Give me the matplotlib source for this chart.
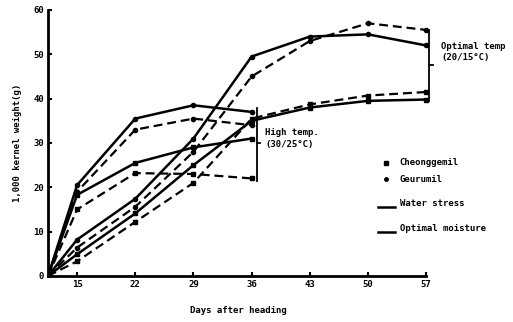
import matplotlib.pyplot as plt

days = [11.5, 15, 22, 29, 36, 43, 50, 57]
days_high = [11.5, 15, 22, 29, 36]

# optimal temp (20/15C)
opt_geu_ws = [0, 8.2, 17.4, 31, 49.5, 54, 54.5, 52]      # solid
opt_geu_om = [0, 6.4, 15.6, 28, 45, 53, 57, 55.5]        # dashed
opt_che_ws = [0, 4.9, 14.1, 25, 35, 38, 39.5, 39.8]      # solid
opt_che_om = [0, 3.3, 12.2, 21, 35.5, 38.7, 40.7, 41.5]  # dashed

# high temp (30/25C)
high_geu_ws = [0, 20.5, 35.5, 38.5, 37]
high_geu_om = [0, 19, 33, 35.5, 34]
high_che_ws = [0, 18.3, 25.5, 29, 31]
high_che_om = [0, 15, 23.2, 23, 22]

font = {'family': 'DejaVu Sans Mono', 'weight': 'bold', 'size': 6.5}

fig = plt.figure(figsize=(5.13, 3.22), dpi=100)
ax = fig.add_axes([0.0936, 0.143, 0.742, 0.826])

solid = dict(color='black', lw=1.8, ls='-', ms=3)
dashed = dict(color='black', lw=1.6, ls=(0, (4, 2.2)), ms=3)

ax.plot(days, opt_geu_ws, marker='o', **solid)
ax.plot(days, opt_geu_om, marker='o', **dashed)
ax.plot(days, opt_che_ws, marker='s', **solid)
ax.plot(days, opt_che_om, marker='s', **dashed)
ax.plot(days_high, high_geu_ws, marker='o', **solid)
ax.plot(days_high, high_geu_om, marker='o', **dashed)
ax.plot(days_high, high_che_ws, marker='s', **solid)
ax.plot(days_high, high_che_om, marker='s', **dashed)

# braces
ax.plot([36.6, 36.6], [21.5, 38], color='black', lw=1.3)
ax.plot([36.6, 37.0], [30, 30], color='black', lw=1.3)
ax.text(37.6, 31.0, 'High temp.\n(30/25°C)', va='center', ha='left',
        linespacing=1.4, **font)
ax.plot([57.4, 57.4], [39.5, 55.5], color='black', lw=1.3, clip_on=False)
ax.plot([57.4, 57.8], [47.5, 47.5], color='black', lw=1.3, clip_on=False)
ax.text(58.8, 50.5, 'Optimal temp\n(20/15°C)', va='center', ha='left',
        linespacing=1.4, clip_on=False, **font)

# legend
ax.plot([52.2], [25.5], marker='s', color='black', ms=2.5, clip_on=False)
ax.text(53.8, 25.5, 'Cheonggemil', va='center', ha='left', clip_on=False, **font)
ax.plot([52.2], [21.8], marker='o', color='black', ms=2.5, clip_on=False)
ax.text(53.8, 21.8, 'Geurumil', va='center', ha='left', clip_on=False, **font)
ax.plot([51.2, 53.2], [15.5, 15.5], color='black', lw=1.8, clip_on=False)
ax.text(53.8, 16.3, 'Water stress', va='center', ha='left', clip_on=False, **font)
ax.plot([51.2, 53.2], [10.0, 10.0], color='black', lw=1.8, clip_on=False)
ax.text(53.8, 10.8, 'Optimal moisture', va='center', ha='left', clip_on=False, **font)

ax.set_xlim(11.5, 57.3)
ax.set_ylim(0, 60)
ax.set_xticks([15, 22, 29, 36, 43, 50, 57])
ax.set_yticks([0, 10, 20, 30, 40, 50, 60])
for s in ['top', 'right']:
    ax.spines[s].set_visible(False)
ax.spines['left'].set_linewidth(2)
ax.spines['bottom'].set_linewidth(2)
ax.spines['bottom'].set_bounds(11.5, 57)
ax.tick_params(direction='in', length=3, width=1.5, pad=3)
for lab in ax.get_xticklabels() + ax.get_yticklabels():
    lab.set_fontproperties(font)
ax.set_ylabel('1,000 kernel weight(g)', labelpad=8, **font)
ax.set_xlabel('Days after heading', labelpad=12, **font)

fig.savefig('out.png', dpi=100)
